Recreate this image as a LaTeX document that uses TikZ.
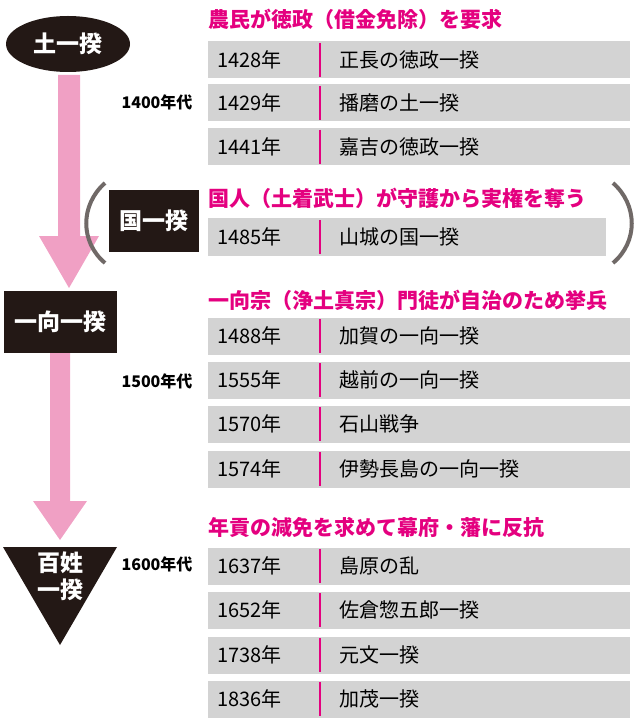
\documentclass[tikz,border=0pt]{standalone}
\usepackage{fontspec}
\setmainfont{Noto Sans CJK JP}
\usetikzlibrary{positioning,shapes.geometric}
\definecolor{hot}{HTML}{E4007F}
\definecolor{rowgray}{HTML}{D3D3D3}
\definecolor{arrowpink}{HTML}{F0A0C4}
\definecolor{ink}{HTML}{231815}

\begin{document}
\begin{tikzpicture}[x=1pt,y=-1pt,
		rowbox/.style={fill=rowgray,draw=none,minimum height=37pt,inner sep=0pt},
		heading/.style={anchor=west,text=hot,font=\bfseries\fontsize{21}{21}\selectfont,inner sep=0pt},
		yeartext/.style={anchor=west,font=\fontsize{20}{20}\selectfont,inner sep=0pt},
		decade/.style={font=\bfseries\fontsize{16}{16}\selectfont,inner sep=0pt},
		kind/.style={fill=ink,text=white,font=\bfseries\fontsize{23}{25}\selectfont,inner sep=0pt},
		pinkarrow/.style={fill=arrowpink,draw=none}]
	\useasboundingbox (0,0) rectangle (640,727);

	% arrows
	\fill[pinkarrow] (58,75) -- (80,75) -- (80,236) -- (99,236) -- (69,288) -- (39,236) -- (58,236) -- cycle;
	\fill[pinkarrow] (50,352) -- (70,352) -- (70,501) -- (87,501) -- (60,540) -- (33,501) -- (50,501) -- cycle;

	% kinds
	\node[kind,ellipse,minimum width=124pt,minimum height=56pt]	(tsuchi)	at (68,44)	{土一揆};
	\node[kind,minimum width=113pt,minimum height=62pt]			(ikko)		at (60,322)	{一向一揆};
	\node[kind,minimum width=90pt,minimum height=61pt]			(kuni)		at (154,221)	{国一揆};
	\fill[ink] (3,547) coordinate (hyakuL) -- (117,547) -- (60,645) -- cycle;
	\node[text=white,font=\bfseries\fontsize{23}{27}\selectfont,align=center,inner sep=0pt]	(hyaku)	at (60,576)	{百姓\\一揆};

	% parentheses
	\draw[ink!65,line width=4pt] (105,183) .. controls (80,205) and (80,242) .. (105,263);
	\draw[ink!65,line width=4pt] (613,183) .. controls (638,205) and (638,242) .. (613,263);

	% decades
	\node[decade]	(d1400)	at (157,102)	{1400年代};
	\node[decade]	(d1500)	at (157,381)	{1500年代};
	\node[decade]	(d1600)	at (157,564)	{1600年代};

	% headings
	\node[heading]	(h1)	at (208,19)		{農民が徳政（借金免除）を要求};
	\node[heading]	(h2)	at (208,198)	{国人（土着武士）が守護から実権を奪う};
	\node[heading]	(h3)	at (208,300)	{一向宗（浄土真宗）門徒が自治のため挙兵};
	\node[heading]	(h4)	at (208,527)	{年貢の減免を求めて幕府・藩に反抗};

	% rows
	\foreach \y/\w/\yr/\ev [count=\i] in {60/422/1428/正長の徳政一揆, 103/422/1429/播磨の土一揆, 147/422/1441/嘉吉の徳政一揆,
			237/398/1485/山城の国一揆,
			336/422/1488/加賀の一向一揆, 380/422/1555/越前の一向一揆, 424/422/1570/石山戦争, 469/422/1574/伊勢長島の一向一揆,
			566/422/1637/島原の乱, 610/422/1652/佐倉惣五郎一揆, 655/422/1738/元文一揆, 699/422/1836/加茂一揆} {
		\node[rowbox,minimum width=\w pt,anchor=west]	(row\i)	at (208,\y)	{};
		\node[yeartext]	(yr\i)	at (217,\y)	{\yr 年};
		\node[yeartext]	(ev\i)	at (339,\y)	{\ev};
		\draw[hot,line width=2pt] (320,\y-17) -- (320,\y+17);
	}
\end{tikzpicture}
\end{document}
